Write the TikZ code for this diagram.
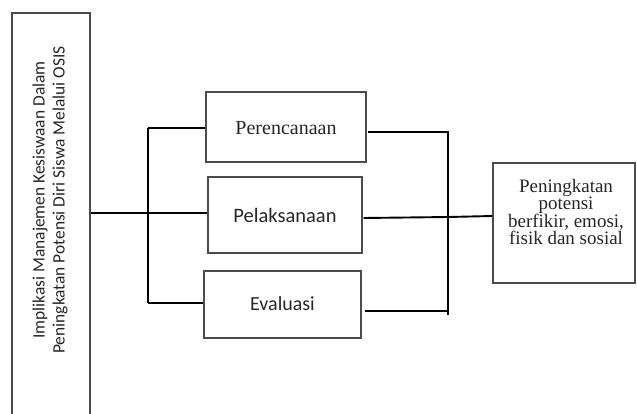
\documentclass[tikz,border=0pt]{standalone}
\usepackage{fontspec}
\setmainfont{Liberation Serif}
\newfontfamily\carl{Carlito}
\begin{document}
\begin{tikzpicture}[x=1pt,y=-1pt,
  box/.style={draw=black!70, line width=1.4pt, inner sep=0pt},
  conn/.style={draw=black, line width=1.9pt},
  txt/.style={text=black!85, inner sep=0pt, align=center}]
\useasboundingbox (0,0) rectangle (637,413);
% left tall box
\node[box, minimum width=78pt, minimum height=410pt] (L) at (51,218) {};
\node[txt, rotate=90, font=\carl\fontsize{17.4}{20}\selectfont] (Lt) at (50,200)
  {Implikasi Manajemen Kesiswaan Dalam\\Peningkatan Potensi Diri Siswa Melalui OSIS};
% middle boxes
\node[box, minimum width=160pt, minimum height=70pt] (P1) at (286,127) {};
\node[txt, font=\fontsize{20}{20}\selectfont] (P1t) at (286,128) {Perencanaan};
\node[box, minimum width=154pt, minimum height=76pt] (P2) at (285,215) {};
\node[txt, font=\carl\fontsize{20.5}{20}\selectfont] (P2t) at (285,215) {Pelaksanaan};
\node[box, minimum width=157pt, minimum height=67pt] (P3) at (282.5,304.5) {};
\node[txt, font=\carl\fontsize{20}{20}\selectfont] (P3t) at (282.5,304) {Evaluasi};
% right box
\node[box, minimum width=142pt, minimum height=120pt] (R) at (564,223) {};
\node[txt, font=\fontsize{19}{17.5}\selectfont] (Rt) at (566,212)
  {Peningkatan\\potensi\\berfikir, emosi,\\fisik dan sosial};
% junction coordinates
\coordinate (JLt) at (148,128);
\coordinate (JLm) at (148,213);
\coordinate (JLb) at (148,303);
\coordinate (JRt) at (448,131);
\coordinate (JRm) at (448,217);
\coordinate (JRb) at (448,315);
% left connectors
\draw[conn] (L.east |- JLm) -- (JLm) -- (P2.west |- JLm);
\draw[conn] (JLt) -- (JLb);
\draw[conn] (JLt) -- (P1.west |- JLt);
\draw[conn] (JLb) -- (P3.west |- JLb);
% right connectors
\draw[conn] (JRt) -- (JRb);
\draw[conn] ([xshift=1pt]P1.east |- 0,132) -- (448,132);
\draw[conn] ([xshift=1pt]P2.east |- 0,218) -- (JRm) -- (R.west |- 0,216);
\draw[conn] ([xshift=3pt]P3.east |- 0,311) -- (448,311);
\end{tikzpicture}
\end{document}
